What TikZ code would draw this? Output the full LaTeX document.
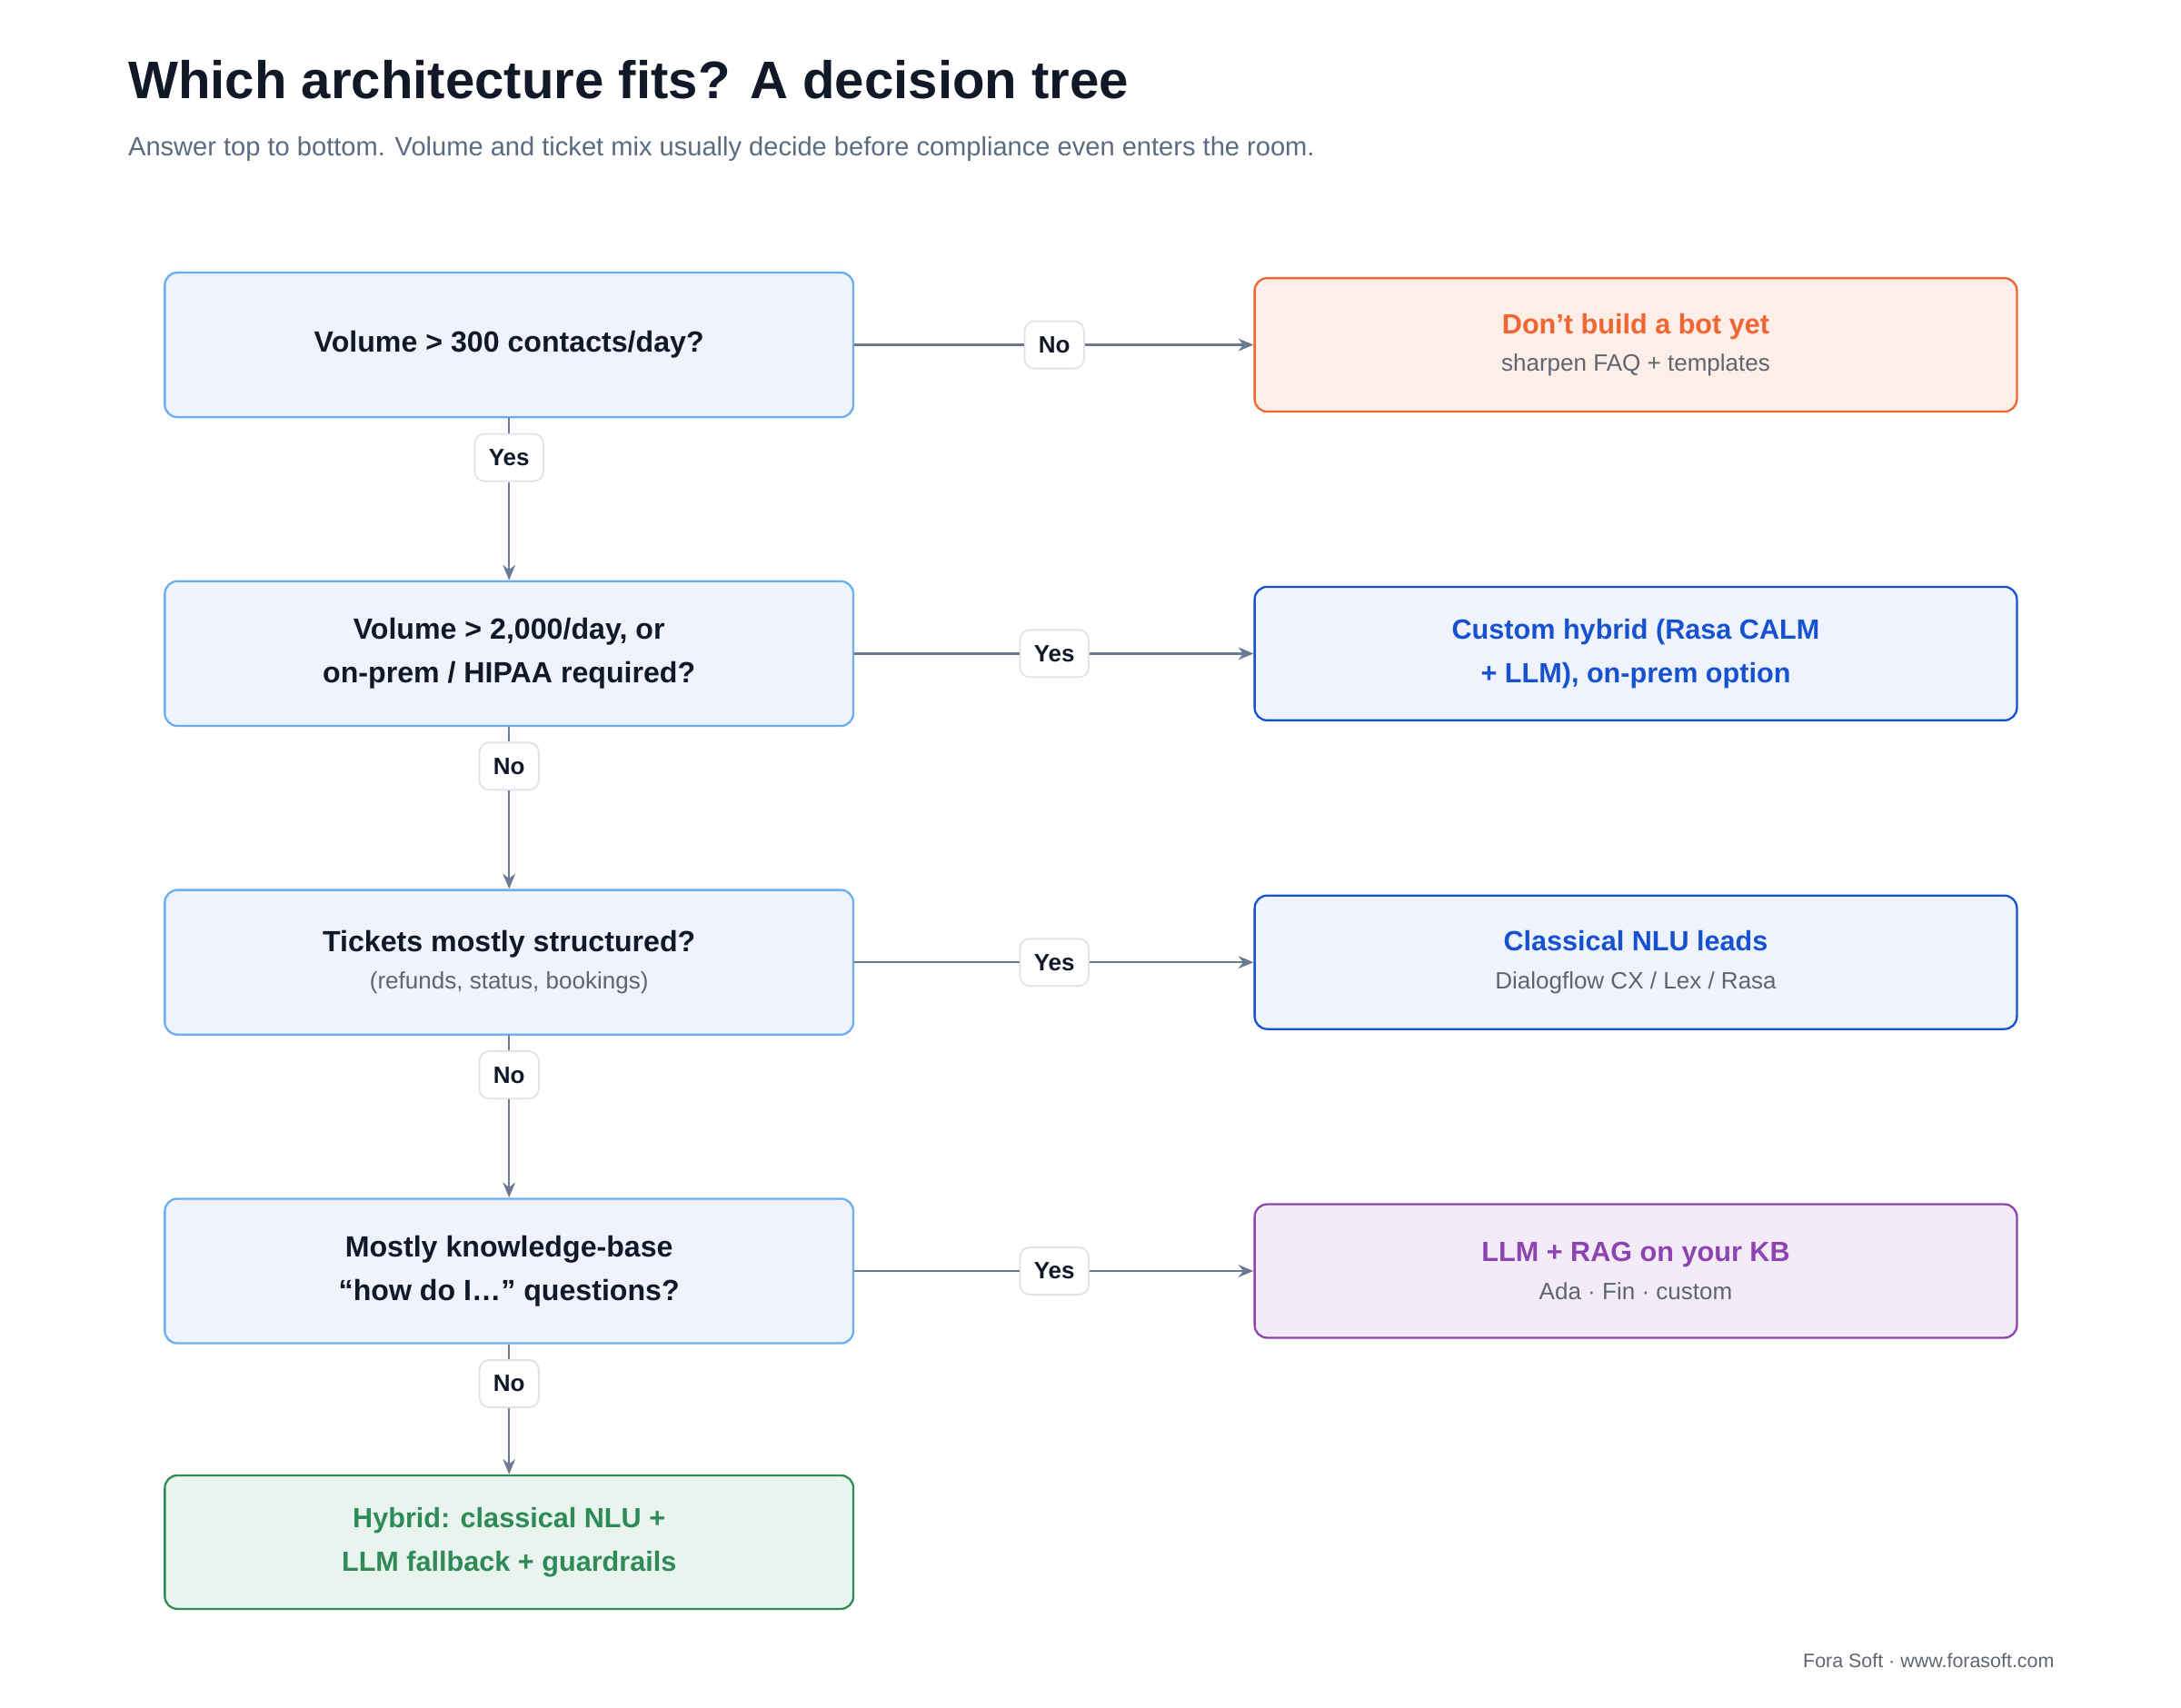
\documentclass[tikz,border=0pt]{standalone}
\usepackage{fontspec}
\setmainfont{Liberation Sans}
\usetikzlibrary{arrows.meta}
\definecolor{ink}{HTML}{111827}
\definecolor{sub}{HTML}{5B6B80}
\definecolor{mut}{HTML}{5F6570}
\definecolor{arr}{HTML}{6B7A90}
\definecolor{qfill}{HTML}{EEF3FE}
\definecolor{qline}{HTML}{6AAEF0}
\definecolor{ofill}{HTML}{FDEEE8}
\definecolor{oline}{HTML}{F26430}
\definecolor{bline}{HTML}{1652D0}
\definecolor{pfill}{HTML}{F3ECF8}
\definecolor{pline}{HTML}{8E44B0}
\definecolor{gfill}{HTML}{EAF4EE}
\definecolor{gline}{HTML}{2E8B57}
\definecolor{pill}{HTML}{E0E3EA}
\tikzset{
 qbox/.style={draw=qline,fill=qfill,line width=1.5pt,rounded corners=9pt,minimum width=495pt,minimum height=104pt,align=center,text=ink,font=\fontsize{21}{31}\selectfont\bfseries},
 rbox/.style={line width=1.5pt,rounded corners=9pt,minimum width=548pt,minimum height=96pt,align=center,font=\fontsize{20}{31}\selectfont\bfseries},
 pillbox/.style={draw=pill,fill=white,line width=1.2pt,rounded corners=7pt,inner xsep=10pt,minimum height=34pt,font=\fontsize{17}{20}\selectfont\bfseries,text=ink},
 conn/.style={draw=arr,line width=1.5pt},
 tip/.style={conn,-{Stealth[length=11pt,width=9pt]}},
 subt/.style={font=\fontsize{17}{20}\selectfont\mdseries,text=mut}
}
\begin{document}
\begin{tikzpicture}[x=1pt,y=-1pt]
\useasboundingbox (0,0) rectangle (1568,1228);
\node[anchor=base west,text=ink,font=\fontsize{38}{44}\selectfont\bfseries,inner sep=0] (title) at (92,71) {Which architecture fits? A decision tree};
\node[anchor=base west,text=sub,font=\fontsize{19}{22}\selectfont,inner sep=0] (subtitle) at (92,112) {Answer top to bottom. Volume and ticket mix usually decide before compliance even enters the room.};
\node[anchor=base east,text=mut,font=\fontsize{14}{16}\selectfont,inner sep=0] (foot) at (1477,1199) {Fora Soft · www.forasoft.com};

\node[qbox] (q1) at (366,248) {Volume > 300 contacts/day?};
\node[qbox] (q2) at (366,470) {Volume > 2,000/day, or\\on-prem / HIPAA required?};
\node[qbox] (q3) at (366,692) {Tickets mostly structured?\\[-4pt]{\fontsize{17}{20}\selectfont\mdseries\color{mut}(refunds, status, bookings)}};
\node[qbox] (q4) at (366,914) {Mostly knowledge-base\\“how do I…” questions?};
\node[qbox,draw=gline,fill=gfill,text=gline,minimum height=96pt,font=\fontsize{20}{31}\selectfont\bfseries] (g) at (366,1109) {Hybrid: classical NLU +\\LLM fallback + guardrails};

\node[rbox,draw=oline,fill=ofill,text=oline] (r1) at (1176,248) {Don’t build a bot yet\\[-4pt]{\fontsize{17}{20}\selectfont\mdseries\color{mut}sharpen FAQ + templates}};
\node[rbox,draw=bline,fill=qfill,text=bline] (r2) at (1176,470) {Custom hybrid (Rasa CALM\\+ LLM), on-prem option};
\node[rbox,draw=bline,fill=qfill,text=bline] (r3) at (1176,692) {Classical NLU leads\\[-4pt]{\fontsize{17}{20}\selectfont\mdseries\color{mut}Dialogflow CX / Lex / Rasa}};
\node[rbox,draw=pline,fill=pfill,text=pline] (r4) at (1176,914) {LLM + RAG on your KB\\[-4pt]{\fontsize{17}{20}\selectfont\mdseries\color{mut}Ada · Fin · custom}};

\node[pillbox] (h1) at (758,248) {No};
\node[pillbox] (h2) at (758,470) {Yes};
\node[pillbox] (h3) at (758,692) {Yes};
\node[pillbox] (h4) at (758,914) {Yes};
\node[pillbox] (v1) at (366,329) {Yes};
\node[pillbox] (v2) at (366,551) {No};
\node[pillbox] (v3) at (366,773) {No};
\node[pillbox] (v4) at (366,995) {No};

\foreach \q/\p/\r in {q1/h1/r1,q2/h2/r2,q3/h3/r3,q4/h4/r4}{
 \draw[conn] (\q.east) -- (\p.west);
 \draw[tip] (\p.east) -- (\r.west);
}
\foreach \q/\p/\r in {q1/v1/q2,q2/v2/q3,q3/v3/q4,q4/v4/g}{
 \draw[conn] (\q.south) -- (\p.north);
 \draw[tip] (\p.south) -- (\r.north);
}
\end{tikzpicture}
\end{document}
